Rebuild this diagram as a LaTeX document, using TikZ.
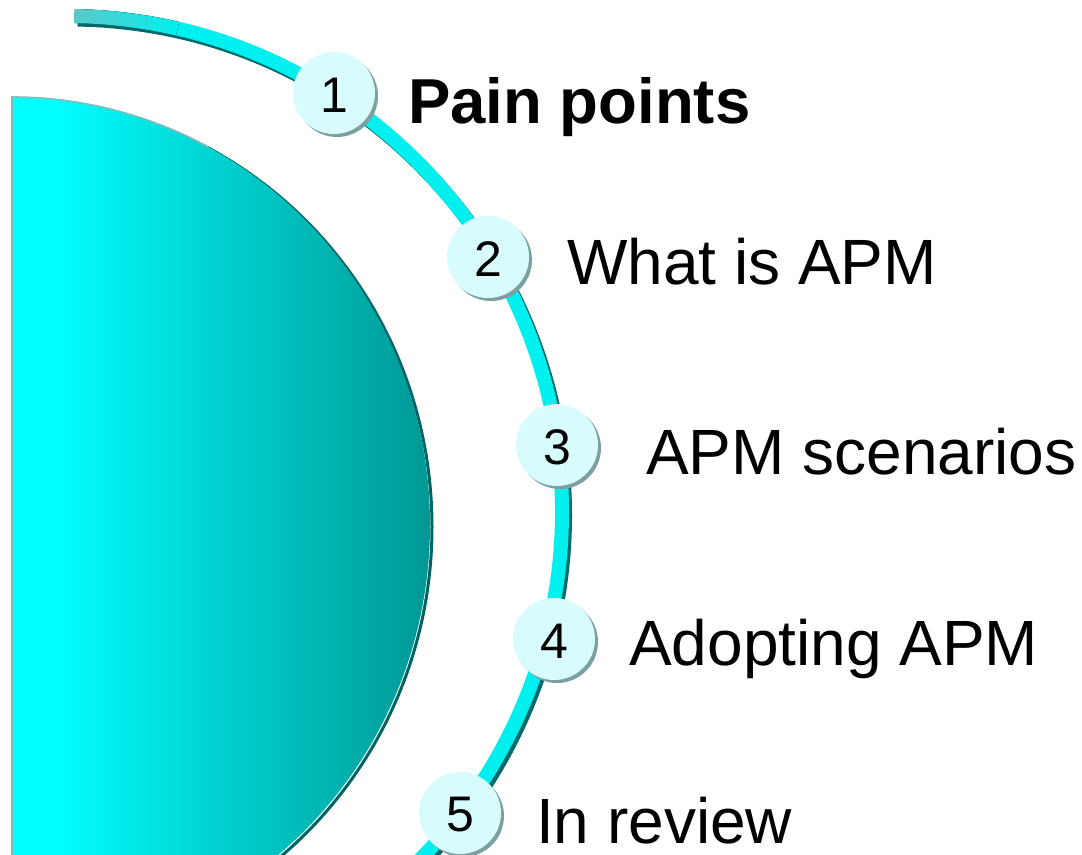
\documentclass[tikz,border=0pt]{standalone}
\usepackage{fontspec}
\setmainfont{Liberation Sans}
\usetikzlibrary{calc}

\definecolor{bandcyan}{RGB}{0,240,240}
\definecolor{bandshadow}{RGB}{0,105,105}
\definecolor{bandstart}{RGB}{90,200,200}
\definecolor{discA}{RGB}{0,255,255}
\definecolor{discB}{RGB}{0,152,148}
\definecolor{discedge}{RGB}{0,100,100}
\definecolor{discrim}{RGB}{125,190,190}
\definecolor{bubblefill}{RGB}{216,252,252}
\definecolor{bubbleshadow}{RGB}{122,160,160}

% cyan on the left, deep teal on the right
\pgfdeclarehorizontalshading{discshade}{100bp}{color(0bp)=(discA); color(30bp)=(discA); color(75bp)=(discB); color(100bp)=(discB)}

\tikzset{
  bubble/.style={circle, fill=bubblefill, minimum size=82bp, inner sep=0pt},
  bubbleshade/.style={fill=bubbleshadow},
  digit/.style={inner sep=0pt, font=\fontsize{50bp}{50bp}\selectfont},
  itemtext/.style={anchor=base west, inner sep=0pt, font=\fontsize{64bp}{64bp}\selectfont},
  band/.style={line width=14bp, bandcyan},
  bandshade/.style={line width=14bp, bandshadow},
}

\begin{document}
\begin{tikzpicture}[x=1bp,y=-1bp]
\useasboundingbox (0,0) rectangle (1082,855);
\clip (0,0) rectangle (1082,855);

% ---- large half disc ----
\draw[discedge, line width=3bp, shift={(2,2)}]
  (12,97) arc[start angle=-90, end angle=55, x radius=418, y radius=428];
\begin{scope}
  \clip (12,97) arc[start angle=-90, end angle=55, x radius=418, y radius=428] -- (12,900) -- cycle;
  \shade[shading=discshade] (12,97) rectangle (430,900);
\end{scope}
\draw[discrim, line width=1.6bp]
  (12,900) -- (12,97) arc[start angle=-90, end angle=-62, x radius=418, y radius=428];

% ---- curved band with its drop shadow ----
\coordinate (ac) at (66,512);
\draw[bandshade, transform canvas={shift={(3,3.5)}}] (ac) ++(-89:496) arc[start angle=-89, end angle=47, radius=496];
\draw[band] (ac) ++(-89:496) arc[start angle=-89, end angle=47, radius=496];
\fill[left color=bandstart, right color=bandcyan]
  ($(ac)+(-89:503)$) arc[start angle=-89, end angle=-77, radius=503]
  -- ($(ac)+(-77:489)$) arc[start angle=-77, end angle=-89, radius=489] -- cycle;

% ---- numbered bubbles ----
\coordinate (c1) at (334,93);
\coordinate (c2) at (488,257);
\coordinate (c3) at (557,445);
\coordinate (c4) at (554,639);
\coordinate (c5) at (460,813);

\foreach \i in {1,...,5}{
  \fill[bubbleshade] ($(c\i)+(3,3)$) circle[radius=41];
}
\foreach \i in {1,...,5}{
  \node[bubble] (n\i) at (c\i) {};
  \node[digit] (d\i) at ($(c\i)+(0,2)$) {\i};
}

% ---- item labels ----
\node[itemtext, font=\fontsize{63.5bp}{64bp}\selectfont\bfseries] (l1) at (408,123) {Pain points};
\node[itemtext] (l2) at (567,284) {What is APM};
\node[itemtext] (l3) at (646,474) {APM scenarios};
\node[itemtext] (l4) at (629,665) {Adopting APM};
\node[itemtext] (l5) at (536,843) {In review};
\end{tikzpicture}
\end{document}
